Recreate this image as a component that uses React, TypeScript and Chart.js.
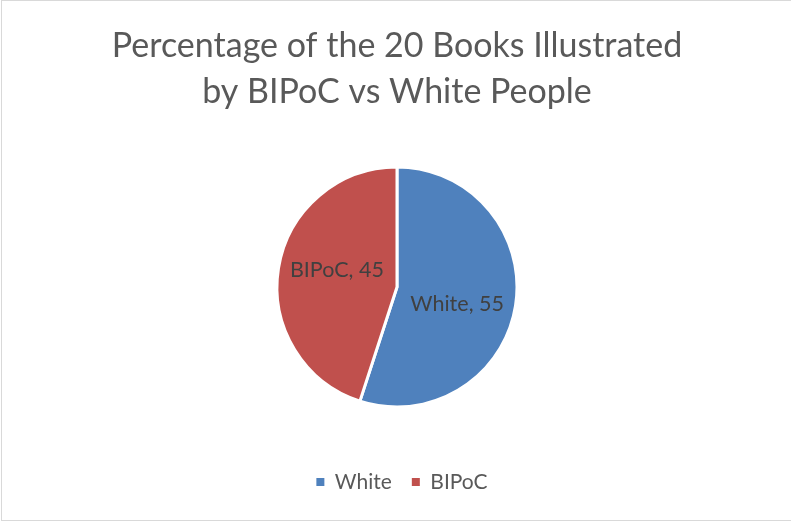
import { useEffect, useRef } from "react";
import { Chart, registerables } from "chart.js";

Chart.register(...registerables);

const categories = ["White", "BIPoC"];
const bookPercents = [55, 45];
const sliceColors = ["#4F81BD", "#C0504D"];
const titleLines = ["Percentage of the 20 Books Illustrated", "by BIPoC vs White People"];

const FONT = "Lato, 'Open Sans', sans-serif";

// Writes "category, value" inside each slice, a little past the slice's middle angle
const sliceLabels = {
  id: "sliceLabels",
  afterDatasetsDraw(chart: any) {
    const { ctx } = chart;
    const meta = chart.getDatasetMeta(0);
    const values = chart.data.datasets[0].data;
    ctx.save();
    ctx.font = `21.5px ${FONT}`;
    ctx.fillStyle = "#404040";
    ctx.textAlign = "center";
    ctx.textBaseline = "middle";
    meta.data.forEach((arc: any, i: number) => {
      const { x, y, startAngle, endAngle, outerRadius } = arc.getProps(
        ["x", "y", "startAngle", "endAngle", "outerRadius"],
        true
      );
      const angle = (startAngle + endAngle) / 2 + (6.5 * Math.PI) / 180;
      const r = outerRadius * 0.52;
      ctx.fillText(`${chart.data.labels[i]}, ${values[i]}`, x + r * Math.cos(angle), y + r * Math.sin(angle));
    });
    ctx.restore();
  },
};

// Nudges the legend row slightly to the right of the centre line
const legendShift = {
  id: "legendShift",
  afterLayout(chart: any) {
    if (chart.legend) {
      chart.legend.left += 5;
      chart.legend.right += 5;
    }
  },
};

export default function App() {
  const canvasRef = useRef<HTMLCanvasElement | null>(null);

  useEffect(() => {
    if (!canvasRef.current) return;
    const chart = new Chart(canvasRef.current, {
      type: "pie",
      data: {
        labels: categories,
        datasets: [
          {
            data: bookPercents,
            backgroundColor: sliceColors,
            borderColor: "#ffffff",
            borderWidth: 3,
            radius: 120,
          },
        ],
      },
      options: {
        responsive: false,
        animation: false,
        layout: { padding: { left: 3, bottom: 19.5 } },
        plugins: {
          title: {
            display: true,
            text: titleLines,
            color: "#595959",
            font: { family: FONT, size: 34, weight: "normal", lineHeight: 46 / 34 },
            padding: { top: 23, bottom: 7.5 },
          },
          legend: {
            position: "bottom",
            labels: {
              boxWidth: 8,
              boxHeight: 8,
              padding: 20,
              color: "#595959",
              font: { family: FONT, size: 21 },
              generateLabels: (chart: any) =>
                chart.data.labels.map((text: string, i: number) => ({
                  text,
                  fillStyle: sliceColors[i],
                  strokeStyle: sliceColors[i],
                  lineWidth: 0,
                  fontColor: "#595959",
                  hidden: false,
                  index: i,
                })),
            },
          },
          tooltip: { enabled: false },
        },
      },
      plugins: [sliceLabels, legendShift],
    });
    return () => chart.destroy();
  }, []);

  return (
    <div style={{ position: "fixed", left: 0, top: 0, width: 791, height: 522, background: "#ffffff", overflow: "hidden" }}>
      <canvas ref={canvasRef} width={791} height={522} style={{ position: "absolute", left: 0, top: 0 }} />
      <div
        style={{
          position: "absolute",
          left: 1,
          top: 0,
          width: 800,
          height: 519,
          border: "1px solid #d9d9d9",
          pointerEvents: "none",
        }}
      />
    </div>
  );
}
